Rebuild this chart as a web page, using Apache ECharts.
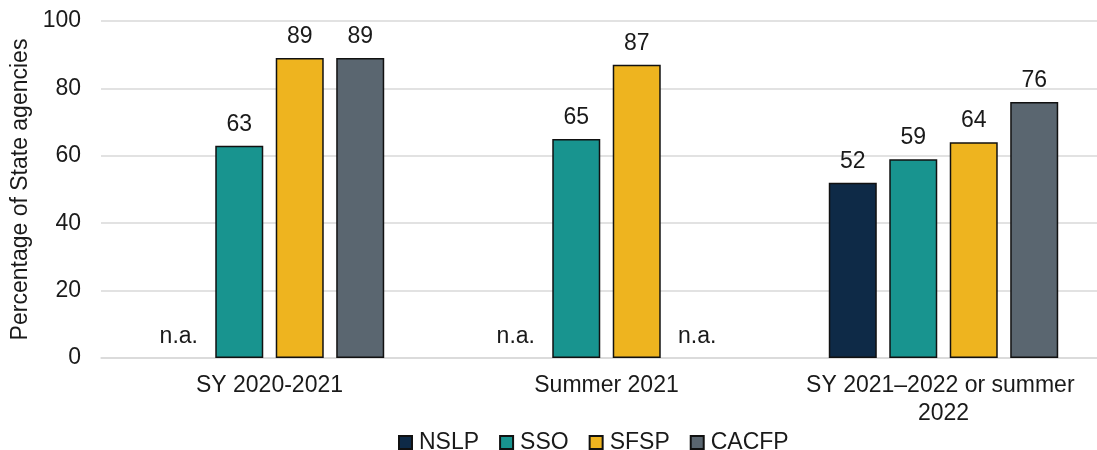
<!DOCTYPE html>
<html>
<head>
<meta charset="utf-8">
<script src="https://cdn.jsdelivr.net/npm/echarts@6/dist/echarts.min.js"></script>
<style>
  html, body { margin: 0; padding: 0; background: #ffffff; }
  #chart { width: 1097px; height: 450px; }
</style>
</head>
<body>
<div id="chart"></div>
<script>
// Period categories along the x axis
const categories = ['SY 2020-2021', 'Summer 2021', 'SY 2021\u20132022 or summer 2022'];

// Percentage of State agencies per program (null = not applicable)
const nslp  = [null, null, 52];
const sso   = [63, 65, 59];
const sfsp  = [89, 87, 64];
const cacfp = [89, null, 76];

const seriesNames = ['NSLP', 'SSO', 'SFSP', 'CACFP'];
const seriesColors = ['#0e2a47', '#18948f', '#eeb41f', '#5a6670'];
const yTicks = { min: 0, max: 100, interval: 20 };

const FONT = 'Liberation Sans, Arial, sans-serif';
const TEXT = '#1a1a1a';

// Not-applicable entries are drawn as an invisible zero bar carrying an "n.a." label
function toData(values) {
  return values.map(v => v === null
    ? { value: 0, itemStyle: { color: 'transparent', borderWidth: 0 }, label: { formatter: 'n.a.' } }
    : v);
}

const allValues = [nslp, sso, sfsp, cacfp];

const chart = echarts.init(document.getElementById('chart'), null, { renderer: 'canvas' });
chart.setOption({
  animation: false,
  textStyle: { fontFamily: FONT },
  grid: { left: 101, right: -15, top: 21, bottom: 92, outerBoundsMode: 'none', containLabel: false },
  legend: {
    data: seriesNames,
    left: 393,
    top: 426,
    itemWidth: 13,
    itemHeight: 13,
    itemGap: 20,
    icon: 'rect',
    textStyle: { fontFamily: FONT, fontSize: 23, color: TEXT, padding: [0, 0, 0, 2] }
  },
  xAxis: {
    type: 'category',
    data: categories,
    axisLine: { show: true, lineStyle: { color: '#d9d9d9', width: 1.5 } },
    axisTick: { show: false },
    axisLabel: {
      interval: 0,
      fontFamily: FONT, fontSize: 23, color: TEXT, margin: 14,
      lineHeight: 28, width: 300, overflow: 'break', align: 'center'
    }
  },
  yAxis: {
    type: 'value',
    min: yTicks.min,
    max: yTicks.max,
    interval: yTicks.interval,
    name: 'Percentage of State agencies',
    nameLocation: 'middle',
    nameGap: 67,
    nameTextStyle: { fontFamily: FONT, fontSize: 23, color: TEXT },
    axisLine: { show: false },
    axisTick: { show: false },
    axisLabel: { fontFamily: FONT, fontSize: 23, color: TEXT, margin: 20 },
    splitLine: { lineStyle: { color: '#d9d9d9', width: 1.5 } }
  },
  series: seriesNames.map((name, i) => ({
    name: name,
    type: 'bar',
    data: toData(allValues[i]),
    barWidth: 48,
    barGap: '26%',
    itemStyle: { color: seriesColors[i], borderColor: '#111111', borderWidth: 1.5 },
    label: {
      show: true,
      position: 'top',
      distance: 10,
      fontFamily: FONT,
      fontSize: 23,
      color: TEXT
    }
  }))
});
</script>
</body>
</html>
